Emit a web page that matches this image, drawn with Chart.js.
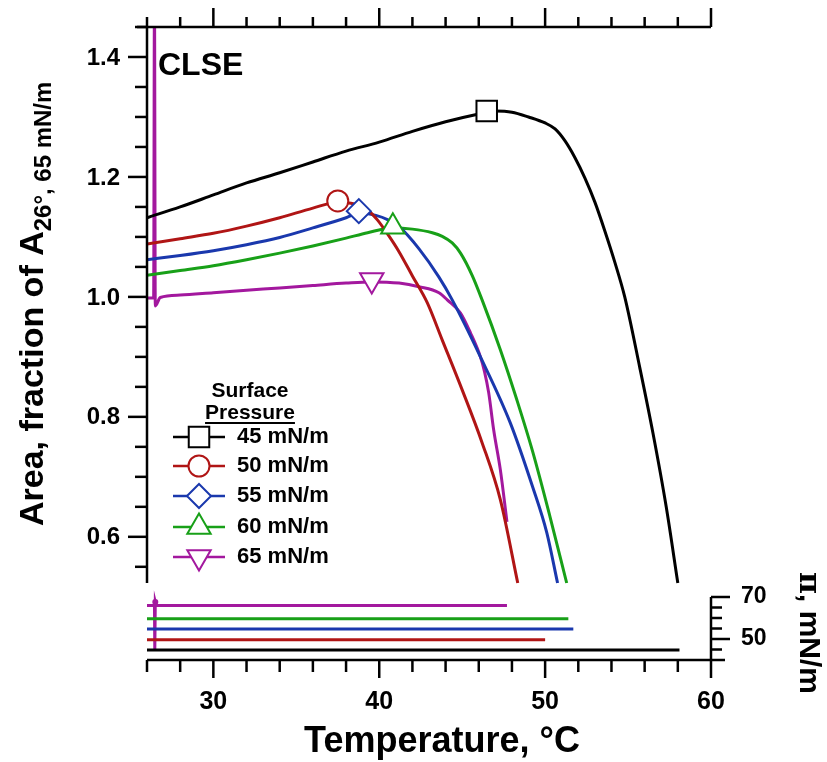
<!DOCTYPE html>
<html>
<head>
<meta charset="utf-8">
<title>CLSE area vs temperature</title>
<script src="https://cdn.jsdelivr.net/npm/chart.js@4.4.1/dist/chart.umd.min.js"></script>
<style>
  html, body { margin: 0; padding: 0; background: #fff; }
  #wrap { position: relative; width: 827px; height: 762px; }
</style>
</head>
<body>
<div id="wrap"><canvas id="chart" width="827" height="762"></canvas></div>
<script>
// surface pressures held while heating
const seriesNames = ["45 mN/m", "50 mN/m", "55 mN/m", "60 mN/m", "65 mN/m"];

// area traces: temperature (°C) and area (fraction of A26°, 65 mN/m)
const temp45 = [26, 28, 30, 32, 34, 36, 38, 40, 42, 44, 46, 47, 48, 49, 50, 50.6, 51.2, 51.8, 52.4, 53.0, 53.6, 54.2, 54.8, 55.7, 56.5, 57.3, 58.0];
const area45 = [1.132, 1.15, 1.17, 1.19, 1.207, 1.225, 1.243, 1.258, 1.276, 1.292, 1.305, 1.31, 1.308, 1.3, 1.29, 1.28, 1.26, 1.232, 1.198, 1.158, 1.11, 1.058, 1.0, 0.883, 0.773, 0.65, 0.523];

const temp50 = [26, 28, 30, 32, 34, 36, 37.5, 38.5, 39.3, 39.9, 40.5, 41.2, 42.0, 42.9, 43.8, 45.0, 46.2, 47.3, 48.35];
const area50 = [1.088, 1.097, 1.106, 1.118, 1.132, 1.148, 1.158, 1.155, 1.145, 1.128, 1.105, 1.075, 1.035, 0.99, 0.928, 0.845, 0.757, 0.662, 0.523];

const temp55 = [26, 28, 30, 32, 34, 36, 38, 38.8, 39.8, 40.5, 41.2, 42.4, 43.6, 44.4, 46.1, 47.9, 49.25, 50.1, 50.75];
const area55 = [1.062, 1.069, 1.077, 1.087, 1.099, 1.115, 1.132, 1.14, 1.136, 1.129, 1.117, 1.08, 1.033, 0.995, 0.9, 0.79, 0.683, 0.607, 0.523];

const temp60 = [26, 28, 30, 32, 34, 36, 38, 39.3, 40.8, 42.0, 43.2, 43.8, 44.4, 44.9, 45.6, 46.2, 47.3, 48.3, 49.25, 50.3, 51.3];
const area60 = [1.036, 1.044, 1.052, 1.062, 1.073, 1.085, 1.098, 1.107, 1.115, 1.113, 1.107, 1.101, 1.09, 1.073, 1.036, 0.995, 0.912, 0.828, 0.742, 0.633, 0.523];

const temp65 = [26, 26.4, 26.45, 26.5, 26.8, 28, 30, 32, 34, 36, 38, 39.5, 41.2, 42.4, 43.6, 44.1, 44.9, 45.5, 46.1, 46.35, 46.6, 46.9, 47.3, 47.7];
const area65 = [0.998, 0.998, 1.5, 0.985, 0.999, 1.003, 1.007, 1.011, 1.015, 1.019, 1.023, 1.025, 1.023, 1.017, 1.007, 0.995, 0.973, 0.94, 0.9, 0.875, 0.84, 0.778, 0.712, 0.625];

// one symbol per trace
const markerTemp = [46.48, 37.5, 38.77, 40.82, 39.55];
const markerArea = [1.31, 1.16, 1.143, 1.117, 1.028];

// surface pressure traces (bottom panel)
const pressTemp45 = [26, 58.1];
const press45 = [44.8, 44.8];
const pressTemp50 = [26, 50.0];
const press50 = [49.6, 49.6];
const pressTemp55 = [26, 51.7];
const press55 = [54.8, 54.8];
const pressTemp60 = [26, 51.4];
const press60 = [59.6, 59.6];
const pressTemp65 = [26, 26.45, 26.47, 26.5, 26.55, 47.7];
const press65 = [66, 66, 44.3, 67.6, 66, 66];

// axis ranges and tick labels
const tempMin = 26, tempMax = 60;
const areaMin = 0.523, areaMax = 1.45;
const pressMin = 40, pressMax = 70;
const tempLabels = [30, 40, 50, 60];
const areaLabels = ["0.6", "0.8", "1.0", "1.2", "1.4"];
const pressLabels = [50, 70];

// styles
const colors = ["#000000", "#b01515", "#1a38ad", "#18a018", "#a3189e"];
const markerStyles = ["rect", "circle", "rectRot", "triangle", "triangle"];
const markerRotations = [0, 0, 0, 0, 180];
const markerSizes = [14.5, 10.5, 12, 13.5, 13.5];

// panel placement on the page (pixels)
const plotLeft = 147, plotRight = 711;
const mainTop = 27, mainBottom = 583;
const pressTop = 597, pressBottom = 660;

// both panels share one chart area; each y scale is stretched so its own
// range lands on its panel
const yMin = areaMax - (areaMax - areaMin) * (pressBottom - mainTop) / (mainBottom - mainTop);
const yPMax = pressMin + (pressMax - pressMin) * (pressBottom - mainTop) / (pressBottom - pressTop);

const toPoints = (xs, ys) => xs.map((v, i) => ({ x: v, y: ys[i] }));

const areaTraces = [[temp45, area45], [temp50, area50], [temp55, area55], [temp60, area60], [temp65, area65]];
const pressTraces = [[pressTemp45, press45], [pressTemp50, press50], [pressTemp55, press55], [pressTemp60, press60], [pressTemp65, press65]];

const datasets = [];
seriesNames.forEach((name, i) => {
  datasets.push({
    label: name + " marker",
    data: [{ x: markerTemp[i], y: markerArea[i] }],
    yAxisID: "y",
    showLine: false,
    pointStyle: markerStyles[i],
    rotation: markerRotations[i],
    pointRadius: markerSizes[i],
    pointBackgroundColor: "#ffffff",
    pointBorderColor: colors[i],
    pointBorderWidth: 2,
    order: 0,
  });
});
seriesNames.forEach((name, i) => {
  datasets.push({
    label: name,
    data: toPoints(areaTraces[i][0], areaTraces[i][1]),
    yAxisID: "y",
    showLine: true,
    borderColor: colors[i],
    borderWidth: 3,
    pointRadius: 0,
    cubicInterpolationMode: "monotone",
    order: 1,
  });
  datasets.push({
    label: name + " pressure",
    data: toPoints(pressTraces[i][0], pressTraces[i][1]),
    yAxisID: "yP",
    showLine: true,
    borderColor: colors[i],
    borderWidth: 3,
    pointRadius: (c) => (i === 4 && c.dataIndex === 3 ? 3 : 0),
    pointBackgroundColor: colors[i],
    pointBorderWidth: 0,
    tension: 0,
    order: 1,
  });
});

const FONT = '"Liberation Sans", Arial, Helvetica, sans-serif';

const framePlugin = {
  id: "framePlugin",
  beforeDraw(chart) {
    const ctx = chart.ctx;
    ctx.save();
    ctx.fillStyle = "#ffffff";
    ctx.fillRect(0, 0, chart.width, chart.height);
    ctx.restore();
  },
  afterDraw(chart) {
    const ctx = chart.ctx;
    const xs = chart.scales.x, ys = chart.scales.y, yp = chart.scales.yP;
    const seg = (x1, y1, x2, y2) => {
      ctx.beginPath();
      ctx.moveTo(x1, y1);
      ctx.lineTo(x2, y2);
      ctx.stroke();
    };
    ctx.save();
    ctx.strokeStyle = "#000";
    ctx.fillStyle = "#000";
    ctx.lineWidth = 2.5;

    const left = xs.getPixelForValue(tempMin);
    const right = xs.getPixelForValue(tempMax);
    const top = ys.getPixelForValue(areaMax);
    const mBottom = ys.getPixelForValue(areaMin);
    const pTop = yp.getPixelForValue(pressMax);
    const pBottom = yp.getPixelForValue(pressMin);

    // main panel: left axis and top axis
    seg(left, top, left, mBottom);
    seg(left - 10, top, right, top);
    ctx.font = "bold 24px " + FONT;
    ctx.textAlign = "right";
    ctx.textBaseline = "middle";
    for (let i = 11; i <= 29; i++) {
      const v = i / 20;
      const py = ys.getPixelForValue(v);
      const major = i % 4 === 0;
      seg(left, py, left - (major ? 19 : 12), py);
      if (major) ctx.fillText(areaLabels[(i - 12) / 4], left - 27, py + 1);
    }
    for (let t = tempMin; t <= tempMax; t += 2) {
      const px = xs.getPixelForValue(t);
      const major = t % 10 === 0;
      seg(px, top, px, top - (major ? 19 : 10));
    }

    // bottom panel: temperature axis and pressure axis
    seg(left, pBottom, right + 14, pBottom);
    seg(right, pTop, right, pBottom + 18);
    ctx.textAlign = "center";
    ctx.font = "bold 25px " + FONT;
    for (let t = tempMin; t < tempMax; t += 2) {
      const px = xs.getPixelForValue(t);
      const major = t % 10 === 0;
      seg(px, pBottom, px, pBottom + (major ? 18 : 12));
    }
    tempLabels.forEach((t) => ctx.fillText(String(t), xs.getPixelForValue(t), pBottom + 42));
    ctx.textAlign = "left";
    ctx.font = "bold 23px " + FONT;
    for (let p = 45; p <= pressMax; p += 5) {
      const py = yp.getPixelForValue(p);
      const major = pressLabels.includes(p);
      seg(right, py, right + (major ? 19 : 11), py);
      if (major) ctx.fillText(String(p), right + 30, py);
    }

    // axis titles
    ctx.textAlign = "center";
    ctx.textBaseline = "alphabetic";
    ctx.font = "bold 36px " + FONT;
    ctx.fillText("Temperature, °C", 442, 752);

    ctx.save();
    ctx.translate(43, 526);
    ctx.rotate(-Math.PI / 2);
    ctx.textAlign = "left";
    ctx.font = "bold 34px " + FONT;
    const mainTitle = "Area, fraction of A";
    ctx.fillText(mainTitle, 0, 0);
    const w = ctx.measureText(mainTitle).width;
    ctx.font = "bold 24px " + FONT;
    ctx.fillText("26°, 65 mN/m", w, 8);
    ctx.restore();

    ctx.save();
    ctx.translate(800, 572);
    ctx.rotate(Math.PI / 2);
    ctx.textAlign = "left";
    ctx.font = 'bold 30px "DejaVu Serif", serif';
    ctx.fillText("π", 0, 0);
    const wp = ctx.measureText("π").width;
    ctx.font = "bold 30px " + FONT;
    ctx.fillText(", mN/m", wp, 0);
    ctx.restore();

    // panel label
    ctx.textAlign = "left";
    ctx.font = "bold 32px " + FONT;
    ctx.fillText("CLSE", 158, 75);

    // legend
    ctx.textAlign = "center";
    ctx.font = "bold 21px " + FONT;
    ctx.fillText("Surface", 250, 397);
    ctx.fillText("Pressure", 250, 419);
    const uw = ctx.measureText("Pressure").width;
    ctx.lineWidth = 2;
    seg(250 - uw / 2, 423, 250 + uw / 2, 423);
    const rowY = [437, 466, 496, 527, 557];
    ctx.textAlign = "left";
    ctx.textBaseline = "middle";
    ctx.font = "bold 22px " + FONT;
    seriesNames.forEach((name, i) => {
      const ry = rowY[i];
      ctx.strokeStyle = colors[i];
      ctx.lineWidth = 2.5;
      seg(173, ry, 225, ry);
      ctx.lineWidth = 2;
      ctx.fillStyle = "#ffffff";
      Chart.helpers.drawPoint(ctx, {
        pointStyle: markerStyles[i],
        rotation: markerRotations[i],
        radius: markerSizes[i],
        borderWidth: 2,
      }, 199, ry);
      ctx.fillStyle = "#000";
      ctx.fillText(name, 237, ry);
    });
    ctx.restore();
  },
};

new Chart(document.getElementById("chart").getContext("2d"), {
  type: "scatter",
  data: { datasets: datasets },
  options: {
    responsive: false,
    animation: false,
    devicePixelRatio: 1,
    layout: {
      padding: {
        left: plotLeft,
        right: 827 - plotRight,
        top: mainTop,
        bottom: 762 - pressBottom,
      },
    },
    scales: {
      x: { type: "linear", min: tempMin, max: tempMax, display: false },
      y: { type: "linear", min: yMin, max: areaMax, display: false },
      yP: { type: "linear", position: "right", min: pressMin, max: yPMax, display: false },
    },
    plugins: {
      legend: { display: false },
      tooltip: { enabled: false },
    },
  },
  plugins: [framePlugin],
});
</script>
</body>
</html>
